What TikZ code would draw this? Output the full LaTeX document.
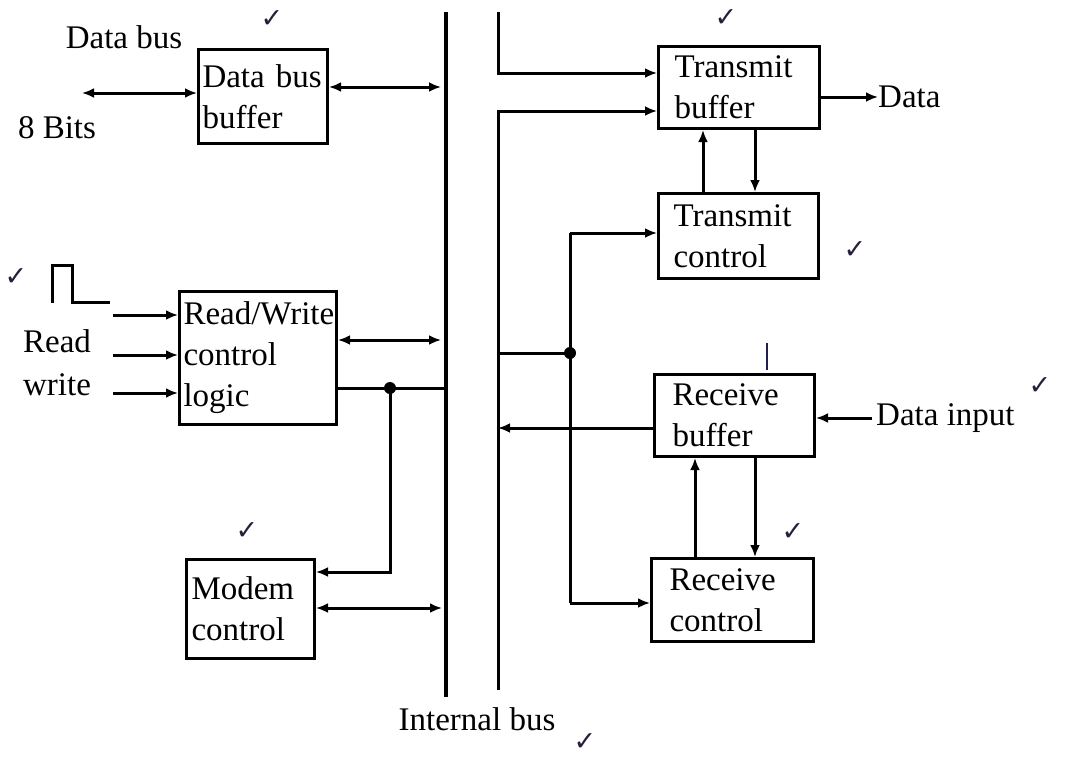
\documentclass[tikz,border=0pt]{standalone}
\usepackage{fontspec}
\setmainfont{Liberation Serif}
\newfontfamily\symfont{DejaVu Sans}
\usetikzlibrary{arrows.meta}
\begin{document}
\begin{tikzpicture}[x=1pt,y=-1pt,
  ln/.style={line width=3pt},
  arr/.style={ln,-{Latex[length=12pt,width=10pt]}},
  darr/.style={ln,{Latex[length=12pt,width=10pt]}-{Latex[length=12pt,width=10pt]}},
  blk/.style={draw,line width=3pt,anchor=north west,align=left,inner ysep=0pt,font=\fontsize{33}{41}\selectfont},
  lbl/.style={font=\fontsize{33}{41}\selectfont,inner sep=0pt},
  tick/.style={font=\symfont\fontsize{27}{27}\selectfont,inner sep=0pt,text={rgb,255:red,40;green,30;blue,60}},
  dot/.style={circle,fill,inner sep=0pt,minimum size=12pt}]
\useasboundingbox (0,0) rectangle (1066,758);

% blocks
\node[blk,minimum width=129pt,minimum height=94pt,text width=121pt,inner xsep=4pt] (dbb) at (197,48) {Data bus\\buffer};
\node[blk,minimum width=161pt,minimum height=82pt,text width=129pt,inner xsep=16pt] (tb) at (657,45) {Transmit\\buffer};
\node[blk,minimum width=160pt,minimum height=85pt,text width=130pt,inner xsep=15pt] (tc) at (657,192) {Transmit\\control};
\node[blk,minimum width=160pt,minimum height=82pt,text width=124pt,inner xsep=18pt] (rb) at (653,373) {Receive\\buffer};
\node[blk,minimum width=162pt,minimum height=83pt,text width=126pt,inner xsep=18pt] (rc) at (650,557) {Receive\\control};
\node[blk,minimum width=157pt,minimum height=133pt,text width=149pt,inner xsep=4pt] (rw) at (178,290) {Read/Write\\control\\logic};
\node[blk,minimum width=128pt,minimum height=99pt,text width=118pt,inner xsep=5pt] (mc) at (185,558) {Modem\\control};

% labels
\node[lbl] (ldb) at (124,37) {Data bus};
\node[lbl] (l8) at (57,128) {8 Bits};
\node[lbl] (lrd) at (57,341) {Read};
\node[lbl] (lwr) at (57,385) {write};
\node[lbl,anchor=west] (ldata) at (878,97) {Data};
\node[lbl,anchor=west] (ldi) at (876,418) {Data input};
\node[lbl] (lib) at (477,719) {Internal bus};

% internal bus
\coordinate (L1) at (446,12);
\coordinate (L2) at (446,697);
\draw[line width=3.4pt] (L1) -- (L2);
\coordinate (R0) at (498,12);
\coordinate (R1) at (498,73);
\coordinate (R2) at (498,111);
\coordinate (R3) at (498,690);
\draw[arr] (R0) -- (R1) -- (R1 -| tb.west);
\draw[arr] (R3) -- (R2) -- (R2 -| tb.west);

% data bus buffer
\coordinate (e8) at (82,93);
\draw[darr] (e8) -- (e8 -| dbb.west);
\coordinate (b87) at (441,87);
\draw[darr] (b87 -| dbb.east) -- (b87);

% transmit side
\draw[arr] (tb.east |- ldata.west) -- (ldata.west);
\coordinate (x703) at (703,0);
\coordinate (x755) at (755,0);
\coordinate (x695) at (695,0);
\draw[arr] (tc.north -| x703) -- (tb.south -| x703);
\draw[arr] (tb.south -| x755) -- (tc.north -| x755);

% junction and control lines
\coordinate (J) at (570,353);
\coordinate (Jt) at (570,233);
\coordinate (Jb) at (570,603);
\draw[ln] (J -| R2) -- (J);
\draw[ln] (Jt) -- (Jb);
\draw[arr] (Jt) -- (Jt -| tc.west);
\draw[arr] (Jb) -- (Jb -| rc.west);
\node[dot] (jd) at (J) {};

% receive side
\coordinate (Rb) at (498,428);
\draw[arr] (Rb -| rb.west) -- (Rb);
\draw[arr] ([xshift=-4pt]ldi.west) -- (ldi.west -| rb.east);
\draw[arr] (rc.north -| x695) -- (rb.south -| x695);
\draw[arr] (rb.south -| x755) -- (rc.north -| x755);

% read/write inputs
\draw[ln] (52,303) -- (52,265) -- (72,265) -- (72,302) -- (110,302);
\coordinate (i1) at (113,315);
\coordinate (i2) at (113,355);
\coordinate (i3) at (113,393);
\draw[arr] (i1) -- (i1 -| rw.west);
\draw[arr] (i2) -- (i2 -| rw.west);
\draw[arr] (i3) -- (i3 -| rw.west);
\coordinate (b340) at (441,340);
\draw[darr] (b340 -| rw.east) -- (b340);
\coordinate (b388) at (446,388);
\coordinate (D) at (390,388);
\draw[ln] (b388 -| rw.east) -- (b388);
\node[dot] (dd) at (D) {};
\coordinate (m572) at (0,572);
\draw[arr] (D) |- (mc.east |- m572);
\coordinate (b608) at (442,608);
\draw[darr] (b608 -| mc.east) -- (b608);

% small mark
\draw[line width=2.4pt,color={rgb,255:red,30;green,30;blue,80}] (767,343) -- (767,370);

% check marks
\node[tick] (t1) at (272,19) {✓};
\node[tick] (t2) at (726,18) {✓};
\node[tick] (t3) at (855,250) {✓};
\node[tick] (t4) at (16,277) {✓};
\node[tick] (t5) at (247,531) {✓};
\node[tick] (t6) at (793,532) {✓};
\node[tick] (t7) at (1040,386) {✓};
\node[tick] (t8) at (585,742) {✓};
\end{tikzpicture}
\end{document}
